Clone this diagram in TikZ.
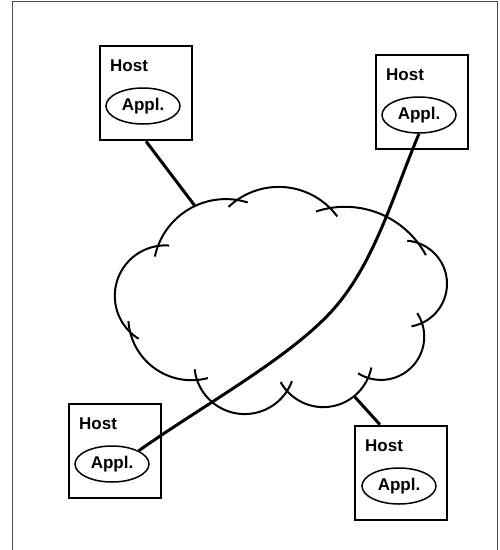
\documentclass[tikz,border=0pt]{standalone}
\usepackage{fontspec}
\setmainfont{Liberation Sans}
\usetikzlibrary{shapes.geometric}
\newcommand\cloudlobe[5]{\draw[cloudline] plot[domain=#4:#5,samples=60,variable=\t] ({#1+#3*cos(\t)},{#2+#3*sin(\t)});}
\begin{document}
\begin{tikzpicture}[x=1pt,y=-1pt,
  hostbox/.style={draw, line width=2.6pt, minimum width=92pt, minimum height=94pt, inner sep=0pt},
  hostlabel/.style={anchor=base west, inner sep=0pt, font=\fontsize{17}{20}\selectfont\bfseries},
  appl/.style={draw, ellipse, line width=1.5pt, minimum width=74pt, minimum height=36pt, inner sep=0pt, font=\fontsize{17}{20}\selectfont\bfseries},
  cloudline/.style={line width=2pt},
  link/.style={line width=3pt},
  frameline/.style={line width=1pt, draw=black!70}]
\useasboundingbox (0,0) rectangle (500,550);
\fill[white] (0,0) rectangle (500,550);
% frame
\draw[frameline] (12,560) -- (12,1.5) -- (497.5,1.5) -- (497.5,560);
% hosts
\node[hostbox] (box1) at (146,93) {};
\node[hostbox] (box2) at (422,102) {};
\node[hostbox] (box3) at (115,451) {};
\node[hostbox] (box4) at (401,473) {};
\node[hostlabel] (h1) at (110,71) {Host};
\node[hostlabel] (h2) at (386,80) {Host};
\node[hostlabel] (h3) at (79,429) {Host};
\node[hostlabel] (h4) at (365,451) {Host};
\node[appl] (e1) at (143,106) {Appl.};
\node[appl] (e2) at (419,115) {Appl.};
\node[appl] (e3) at (112,464) {Appl.};
\node[appl] (e4) at (399,486) {Appl.};
% cloud
\cloudlobe{165.3}{295.9}{50.5}{121.9}{274.2}
\cloudlobe{225.8}{271.6}{72.5}{192}{287.6}
\cloudlobe{278.7}{259.7}{72.8}{226.4}{323.5}
\cloudlobe{345}{298.6}{91.8}{251.6}{331.7}
\cloudlobe{403.8}{283.8}{43.2}{-85.4}{79.7}
\cloudlobe{381}{336.7}{43.2}{-33.1}{122.1}
\cloudlobe{323.3}{358.2}{48.9}{11}{150.8}
\cloudlobe{244.7}{363.7}{50.35}{20.3}{173.6}
\cloudlobe{191.5}{317}{63.2}{75}{176.3}
\coordinate (c1) at (195,206);
\coordinate (c4) at (354,396);
\coordinate (mid) at (330,313);
% connectors
\draw[link] (box1.south) -- (c1);
\draw[link] (c4) -- ([xshift=-21pt]box4.north);
\draw[link] (e2.south) .. controls (393,195) and (374,266) .. (mid)
  .. controls (286,360) and (202,406) .. (e3.north east);
\end{tikzpicture}
\end{document}
